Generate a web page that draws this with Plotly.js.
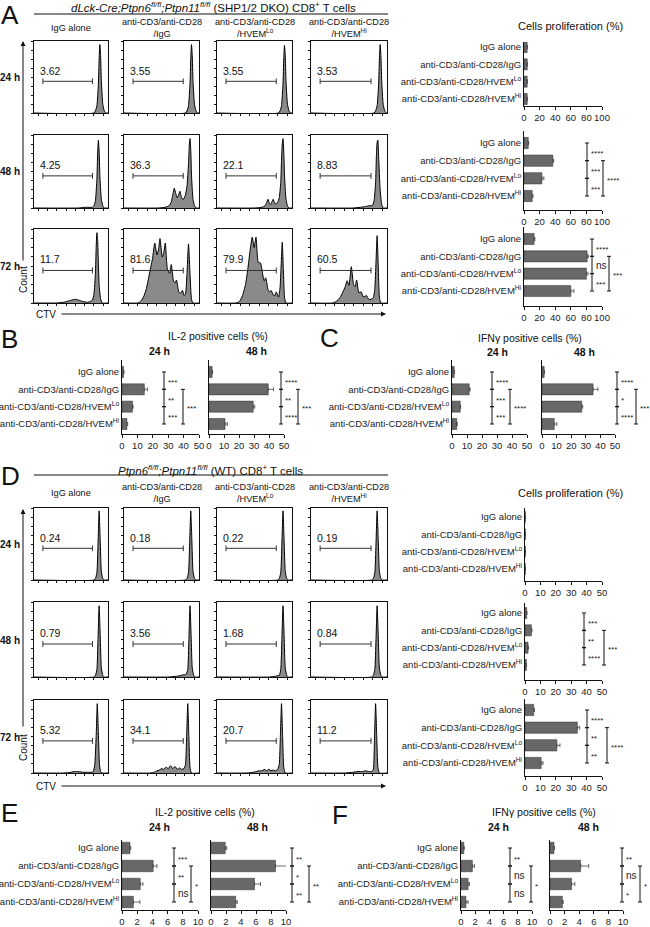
<!DOCTYPE html>
<html>
<head>
<meta charset="utf-8">
<script src="https://cdn.plot.ly/plotly-3.0.1.min.js"></script>
<style>body{margin:0;background:#fff}#plotArea{width:650px;height:927px}</style>
</head>
<body>
<div id="plotArea"></div>
<script>
var W = 650, H = 927;
function xd(px) { return px / W; }
function yd(py) { return 1 - py / H; }

// groups / labels
var groups = ['IgG alone', 'anti-CD3/anti-CD28/IgG', 'anti-CD3/anti-CD28/HVEM<sup>Lo</sup>', 'anti-CD3/anti-CD28/HVEM<sup>Hi</sup>'];
var colHeads = ['IgG alone', 'anti-CD3/anti-CD28<br>/IgG', 'anti-CD3/anti-CD28<br>/HVEM<sup>Lo</sup>', 'anti-CD3/anti-CD28<br>/HVEM<sup>Hi</sup>'];
var timeRows = ['24 h', '48 h', '72 h'];

// gate percentages
var gateDKO = [['3.62', '3.55', '3.55', '3.53'], ['4.25', '36.3', '22.1', '8.83'], ['11.7', '81.6', '79.9', '60.5']];
var gateWT = [['0.24', '0.18', '0.22', '0.19'], ['0.79', '3.56', '1.68', '0.84'], ['5.32', '34.1', '20.7', '11.2']];

// CTV histograms (x = CTV in % of panel width, y = count in % of panel height)
var histDKO_x = [
  [[0,81,83,85,87,88,89,90,91,93,95,97,100], [0,82,84,86,88,89,90,91,92,94,96,98,100], [0,82,84,86,88,89,90,91,92,94,96,98,100], [0,83,85,87,89,90,91,92,93,95,97,99,100]],
  [[0,60,70,79,81,83,85,86,87,88,89,91,93,95,100], [0,45,55,60,63,65,67,69,71,73,74.5,76,78,80,82,84,86,87,88,89,90,92,94,96,100], [0,50,60,64,66,68,70,72,73,75,77,79,81,83,85,86,87,88,89,90,92,94,96,100], [0,55,65,72,76,79,81,83,85,86,87,88,89,91,93,95,100]],
  [[0,30,40,48,55,60,66,72,76,79,81,83,84,85,86,87,88,90,92,100], [0,18,22,26,30,33,36,38,41,44,46,48,51,53,55,58,61,63,66,68,70,73,75,78,80,82,84,86,88,90,92,100], [0,25,30,34,38,41,44,47,49.5,52,55,58,61,63,65,68,70,72,75,77,79,82,84,85.5,87,88.5,90,92,100], [0,28,33,38,42,45,47.5,50,53,56,58,60,63,66,69,73,76,79,82,84,85.5,87,88.5,90,92,100]]
];
var histDKO_y = [
  [[0,0,3,10,40,75,95,80,45,12,3,0,0], [0,0,3,10,40,75,95,80,45,12,3,0,0], [0,0,3,10,40,75,94,80,45,12,3,0,0], [0,0,3,10,40,75,95,80,45,12,3,0,0]],
  [[0,0,1,1,3,10,40,75,93,78,45,12,3,0,0], [0,0,1,3,8,18,27,20,14,18,23,17,12,13,18,30,60,85,95,80,45,12,3,0,0], [0,0,1,3,7,12,6,5,8,12,6,6,8,14,35,65,88,95,78,45,12,3,0,0], [0,0,1,2,3,3,4,10,35,70,90,93,70,25,5,0,0]],
  [[0,0,1,3,5,4,2,1,2,4,12,40,75,95,85,55,25,6,0,0], [0,0,2,8,20,35,50,60,81,65,72,87,62,68,81,45,40,52,30,27,31,15,13,17,10,12,40,80,40,5,0,0], [0,0,2,10,25,45,70,89,75,89,55,54,38,30,34,18,15,17,11,10,15,8,20,50,82,45,8,0,0], [0,0,2,7,15,22,30,24,49,25,22,31,14,15,8,10,5,5,7,20,55,91,50,8,0,0]]
];
var histWT_x = [
  [[0,81,83,85,86.5,88,89.5,91,93,95,100], [0,82,84,86,87.5,89,90.5,92,94,96,100], [0,81,83,85,86.5,88,89.5,91,93,95,100], [0,80,82,84,85.5,87,88.5,90,92,94,100]],
  [[0,81,83,85,86.5,88,89.5,91,93,95,100], [0,60,70,76,79,81,83,85,86.5,88,89.5,91,93,95,100], [0,70,78,81,83,85,86.5,88,89.5,91,93,95,100], [0,80,82,84,85.5,87,88.5,90,92,94,100]],
  [[0,40,50,55,60,66,72,78,80,82,84,85.5,87,88.5,90,92,100], [0,35,40,44,47,50,53,56,59,62,65,68,71,74,77,80,82,83.5,85,86.5,88,90,100], [0,40,48,52,56,60,63,66,69,72,75,78,81,83,84.5,86,87.5,89,91,100], [0,45,55,62,68,72,76,80,82,83.5,85,86.5,88,90,100]]
];
var histWT_y = [
  [[0,0,2,10,50,96,55,12,2,0,0], [0,0,2,10,50,96,55,12,2,0,0], [0,0,2,10,50,96,55,12,2,0,0], [0,0,2,10,50,96,55,12,2,0,0]],
  [[0,0,2,10,50,95,55,12,2,0,0], [0,0,1,2,3,3,4,10,50,95,55,12,2,0,0], [0,0,1,2,2,10,50,95,55,12,2,0,0], [0,0,2,10,50,95,55,12,2,0,0]],
  [[0,0,1,2,2,1,1,1,2,10,50,95,55,12,2,0,0], [0,0,1,3,4,6,5,8,6,10,6,9,5,7,5,6,12,50,95,50,8,0,0], [0,0,1,2,3,3,5,3,5,3,4,3,5,12,50,95,50,8,0,0], [0,0,1,2,2,3,2,2,5,45,95,50,8,0,0]]
];

// bar chart values (mean, error) in %
var prolifDKO_24 = [4.1, 4.2, 4.1, 4.2], prolifDKO_24_err = [0.2, 0.2, 0.2, 0.2];
var prolifDKO_48 = [5.5, 37, 23, 10.5], prolifDKO_48_err = [0.5, 1, 2.5, 1];
var prolifDKO_72 = [13, 81, 80, 60], prolifDKO_72_err = [1, 1.5, 2, 4];
var il2DKO_24 = [1.0, 14.5, 6.8, 3.2], il2DKO_24_err = [0.3, 2, 0.4, 0.5];
var il2DKO_48 = [2.1, 39.5, 29.5, 10.7], il2DKO_48_err = [0.3, 3.5, 1, 1.5];
var ifnDKO_24 = [1.5, 11.5, 5.5, 3.2], ifnDKO_24_err = [0.2, 0.6, 0.3, 0.3];
var ifnDKO_48 = [1.5, 35, 27.2, 8.4], ifnDKO_48_err = [0.2, 3.3, 0.7, 1.8];
var prolifWT_24 = [0.24, 0.2, 0.22, 0.2], prolifWT_24_err = [0, 0, 0, 0];
var prolifWT_48 = [1.1, 4.2, 2.0, 0.9], prolifWT_48_err = [0.1, 0.3, 0.2, 0.1];
var prolifWT_72 = [5.7, 34, 20.7, 10.5], prolifWT_72_err = [0.4, 1.5, 2, 1.2];
var il2WT_24 = [1.05, 4.1, 2.4, 1.5], il2WT_24_err = [0.1, 0.5, 0.35, 0.85];
var il2WT_48 = [1.9, 8.6, 5.8, 3.3], il2WT_48_err = [0.2, 1.5, 0.8, 0.2];
var ifnWT_24 = [0.4, 1.6, 1.0, 0.7], ifnWT_24_err = [0.05, 0.3, 0.2, 0.3];
var ifnWT_48 = [0.55, 4.2, 2.95, 1.7], ifnWT_48_err = [0.05, 1.1, 0.45, 0.1];

// significance: rows 1-2, 2-3, 3-4, then 2-4
var sigA48 = ['****', '***', '***', '****'];
var sigA72 = ['****', 'ns', '***', '***'];
var sigB24 = ['***', '**', '***', '***'];
var sigB48 = ['****', '**', '****', '***'];
var sigC24 = ['****', '***', '***', '****'];
var sigC48 = ['****', '*', '****', '***'];
var sigD48 = ['***', '**', '****', '***'];
var sigD72 = ['****', '**', '**', '****'];
var sigE24 = ['***', '**', 'ns', '*'];
var sigE48 = ['**', '*', '**', '**'];
var sigF24 = ['**', 'ns', 'ns', '*'];
var sigF48 = ['**', 'ns', '*', '*'];

var data = [];
var layout = {
  width: W, height: H, margin: {l: 0, r: 0, t: 0, b: 0},
  paper_bgcolor: '#fff', plot_bgcolor: 'rgba(0,0,0,0)', showlegend: false,
  font: {family: 'Arial, "Liberation Sans", sans-serif', color: '#111', size: 9},
  shapes: [], annotations: []
};

var n = 0;
function newAxes(xdom, ydom, xopt, yopt) {
  n++;
  var key = n === 1 ? '' : String(n);
  layout['xaxis' + key] = Object.assign({domain: xdom, anchor: 'y' + key, fixedrange: true, showgrid: false, zeroline: false}, xopt);
  layout['yaxis' + key] = Object.assign({domain: ydom, anchor: 'x' + key, fixedrange: true, showgrid: false, zeroline: false}, yopt);
  return {x: 'x' + key, y: 'y' + key};
}
function txt(px, py, text, opt) {
  layout.annotations.push(Object.assign({xref: 'paper', yref: 'paper', x: xd(px), y: yd(py), text: text,
    showarrow: false, xanchor: 'center', yanchor: 'middle', font: {size: 9}}, opt || {}));
}
function seg(x0, y0, x1, y1, w) {
  layout.shapes.push({type: 'line', xref: 'paper', yref: 'paper', x0: xd(x0), y0: yd(y0), x1: xd(x1), y1: yd(y1),
    line: {color: '#111', width: w || 1}});
}
function arrow(hx, hy, tx, ty) {
  layout.annotations.push({xref: 'paper', yref: 'paper', x: xd(hx), y: yd(hy), ax: tx - hx, ay: ty - hy,
    axref: 'pixel', ayref: 'pixel', text: '', showarrow: true, arrowhead: 2, arrowsize: 1, arrowwidth: 1, arrowcolor: '#111'});
}

// flow histogram grid
var cols = [[34, 108], [124, 199], [217, 292], [311, 387]];
function histGrid(xs, ys, gates, rowsPx) {
  for (var r = 0; r < 3; r++) {
    for (var c = 0; c < 4; c++) {
      var ax = newAxes([xd(cols[c][0]), xd(cols[c][1])], [yd(rowsPx[r][1]), yd(rowsPx[r][0])],
        {range: [0, 100], showline: true, mirror: true, linecolor: '#111', linewidth: 1, ticks: 'outside', ticklen: 2,
         tickcolor: '#111', tick0: 6, dtick: 12.5, showticklabels: false},
        {range: [0, 100], showline: true, mirror: true, linecolor: '#111', linewidth: 1, ticks: 'outside', ticklen: 2,
         tickcolor: '#111', tick0: 0, dtick: 12.5, showticklabels: false});
      data.push({type: 'scatter', mode: 'lines', x: xs[r][c], y: ys[r][c], xaxis: ax.x, yaxis: ax.y,
        fill: 'tozeroy', fillcolor: '#8a8a8a', line: {color: '#000', width: 1, shape: 'spline', smoothing: 0.5},
        hoverinfo: 'skip'});
      // gate marker
      layout.shapes.push({type: 'line', xref: ax.x, yref: ax.y, x0: 12, x1: 79, y0: 44, y1: 44, line: {color: '#333', width: 1}});
      layout.shapes.push({type: 'line', xref: ax.x, yref: ax.y, x0: 12, x1: 12, y0: 40, y1: 48, line: {color: '#333', width: 1}});
      layout.shapes.push({type: 'line', xref: ax.x, yref: ax.y, x0: 79, x1: 79, y0: 40, y1: 48, line: {color: '#333', width: 1}});
      layout.annotations.push({xref: ax.x, yref: ax.y, x: 5, y: 59, text: gates[r][c], showarrow: false,
        xanchor: 'left', yanchor: 'middle', font: {size: 10.5, color: '#111'}});
    }
    txt(22, (rowsPx[r][0] + rowsPx[r][1]) / 2 + 0.5, '<b>' + timeRows[r] + '</b>', {xanchor: 'right', font: {size: 10}});
  }
}

// horizontal bar chart with brackets
function barChart(cfg, vals, errs, sig) {
  var s = (cfg.yLast - cfg.yFirst) / 3;
  var rTop = -(cfg.yFirst - cfg.top) / s, rBot = 3 + (cfg.line - cfg.yLast) / s;
  var ax = newAxes([xd(cfg.x0), xd(cfg.x1)], [yd(cfg.line), yd(cfg.top)],
    {range: [0, cfg.max], dtick: cfg.dtick, tick0: 0, showline: true, linecolor: '#111', linewidth: 1,
     ticks: 'outside', ticklen: 3, tickcolor: '#111', tickfont: {size: 9.5, color: '#222'}},
    {range: [rBot, rTop], tickvals: [0, 1, 2, 3], ticktext: groups, showticklabels: !cfg.noLabels,
     showline: true, linecolor: '#111', linewidth: 1, ticks: '', tickfont: {size: 9.5, color: '#222'}});
  data.push({type: 'bar', orientation: 'h', x: vals, y: [0, 1, 2, 3], xaxis: ax.x, yaxis: ax.y, width: 0.64,
    marker: {color: '#686868', line: {color: '#333', width: 0.5}},
    error_x: {type: 'data', array: errs, arrayminus: [0, 0, 0, 0], symmetric: false, color: '#444', thickness: 0.8, width: 2},
    hoverinfo: 'skip'});
  if (!sig) return;
  var pairs = [[0, 1, cfg.inner], [1, 2, cfg.inner], [2, 3, cfg.inner], [1, 3, cfg.outer]];
  pairs.forEach(function (p, k) {
    var y0 = cfg.yFirst + p[0] * s, y1 = cfg.yFirst + p[1] * s, x = p[2];
    seg(x, y0, x, y1); seg(x - 2, y0, x + 2, y0); seg(x - 2, y1, x + 2, y1);
    var ns = sig[k] === 'ns';
    txt(x + 2, (y0 + y1) / 2 + (ns ? 0 : 2), sig[k], {xanchor: 'left', font: {size: ns ? 10 : 8, color: '#222'}});
  });
}

// ---------- panel A ----------
txt(10, 14.5, 'A', {font: {size: 26}});
txt(213, 7, '<i>dLck-Cre;Ptpn6<sup>fl/fl</sup>;Ptpn11<sup>fl/fl</sup></i> (SHP1/2 DKO) CD8<sup>+</sup> T cells', {font: {size: 11.5}});
seg(34, 14, 388, 14);
colHeads.forEach(function (h, c) { txt((cols[c][0] + cols[c][1]) / 2, 28, h, {font: {size: 9.2}}); });
histGrid(histDKO_x, histDKO_y, gateDKO, [[41, 113], [135, 208], [229, 303]]);
arrow(23, 41, 23, 262);
txt(23, 280, 'Count', {textangle: -90, font: {size: 10}});
txt(46, 314, 'CTV', {font: {size: 10}});
arrow(386, 314, 60, 314);

txt(570, 26, 'Cells proliferation (%)', {font: {size: 11}});
barChart({x0: 524, x1: 602, max: 100, dtick: 20, yFirst: 47, yLast: 99, top: 42, line: 106}, prolifDKO_24, prolifDKO_24_err, null);
barChart({x0: 524, x1: 602, max: 100, dtick: 20, yFirst: 143, yLast: 196, top: 131, line: 210, inner: 587, outer: 603}, prolifDKO_48, prolifDKO_48_err, sigA48);
barChart({x0: 524, x1: 602, max: 100, dtick: 20, yFirst: 239, yLast: 291, top: 227, line: 306, inner: 592, outer: 609}, prolifDKO_72, prolifDKO_72_err, sigA72);

// ---------- panel B / C ----------
txt(9, 339, 'B', {font: {size: 26}});
txt(218, 336, 'IL-2 positive cells (%)', {font: {size: 10.5}});
txt(159, 351, '<b>24 h</b>', {font: {size: 10.5}});
txt(256, 351, '<b>48 h</b>', {font: {size: 10.5}});
barChart({x0: 122, x1: 199, max: 50, dtick: 10, yFirst: 372, yLast: 424, top: 360, line: 434, inner: 164, outer: 183}, il2DKO_24, il2DKO_24_err, sigB24);
barChart({x0: 209, x1: 284, max: 50, dtick: 10, yFirst: 372, yLast: 424, top: 360, line: 434, inner: 281, outer: 298, noLabels: true}, il2DKO_48, il2DKO_48_err, sigB48);

txt(329, 338, 'C', {font: {size: 26}});
txt(530, 338, 'IFNγ positive cells (%)', {font: {size: 10.5}});
txt(497, 352, '<b>24 h</b>', {font: {size: 10.5}});
txt(584, 352, '<b>48 h</b>', {font: {size: 10.5}});
barChart({x0: 452, x1: 527, max: 50, dtick: 10, yFirst: 372, yLast: 424, top: 360, line: 434, inner: 492, outer: 510}, ifnDKO_24, ifnDKO_24_err, sigC24);
barChart({x0: 542, x1: 615, max: 50, dtick: 10, yFirst: 372, yLast: 424, top: 360, line: 434, inner: 617, outer: 636, noLabels: true}, ifnDKO_48, ifnDKO_48_err, sigC48);

// ---------- panel D ----------
txt(10, 476, 'D', {font: {size: 26}});
txt(210, 470, '<i>Ptpn6<sup>fl/fl</sup>;Ptpn11<sup>fl/fl</sup></i> (WT) CD8<sup>+</sup> T cells', {font: {size: 11.5}});
seg(34, 475, 388, 475);
colHeads.forEach(function (h, c) { txt((cols[c][0] + cols[c][1]) / 2, 493, h, {font: {size: 9.2}}); });
histGrid(histWT_x, histWT_y, gateWT, [[508, 580], [602, 677], [700, 773]]);
arrow(23, 509, 23, 728);
txt(23, 748, 'Count', {textangle: -90, font: {size: 10}});
txt(46, 786, 'CTV', {font: {size: 10}});
arrow(386, 786, 60, 786);

txt(570, 493, 'Cells proliferation (%)', {font: {size: 11}});
barChart({x0: 525, x1: 602, max: 50, dtick: 10, yFirst: 517, yLast: 569, top: 508, line: 581}, prolifWT_24, prolifWT_24_err, null);
barChart({x0: 525, x1: 602, max: 50, dtick: 10, yFirst: 613, yLast: 665, top: 603, line: 680, inner: 584, outer: 604}, prolifWT_48, prolifWT_48_err, sigD48);
barChart({x0: 525, x1: 602, max: 50, dtick: 10, yFirst: 710, yLast: 763, top: 699, line: 776, inner: 587, outer: 607}, prolifWT_72, prolifWT_72_err, sigD72);

// ---------- panel E / F ----------
txt(9, 813, 'E', {font: {size: 26}});
txt(205, 812, 'IL-2 positive cells (%)', {font: {size: 10.5}});
txt(159, 827, '<b>24 h</b>', {font: {size: 10.5}});
txt(257, 827, '<b>48 h</b>', {font: {size: 10.5}});
barChart({x0: 122, x1: 198, max: 10, dtick: 2, yFirst: 848, yLast: 902, top: 840, line: 910, inner: 174, outer: 191}, il2WT_24, il2WT_24_err, sigE24);
barChart({x0: 211, x1: 286, max: 10, dtick: 2, yFirst: 848, yLast: 902, top: 840, line: 910, inner: 292, outer: 309, noLabels: true}, il2WT_48, il2WT_48_err, sigE48);

txt(340, 815, 'F', {font: {size: 26}});
txt(544, 812, 'IFNγ positive cells (%)', {font: {size: 10.5}});
txt(498, 827, '<b>24 h</b>', {font: {size: 10.5}});
txt(588, 827, '<b>48 h</b>', {font: {size: 10.5}});
barChart({x0: 461, x1: 532, max: 10, dtick: 2, yFirst: 848, yLast: 902, top: 840, line: 910, inner: 510, outer: 531}, ifnWT_24, ifnWT_24_err, sigF24);
barChart({x0: 550, x1: 623, max: 10, dtick: 2, yFirst: 848, yLast: 902, top: 840, line: 910, inner: 622, outer: 640, noLabels: true}, ifnWT_48, ifnWT_48_err, sigF48);

Plotly.newPlot('plotArea', data, layout, {staticPlot: true, displayModeBar: false});
</script>
</body>
</html>
